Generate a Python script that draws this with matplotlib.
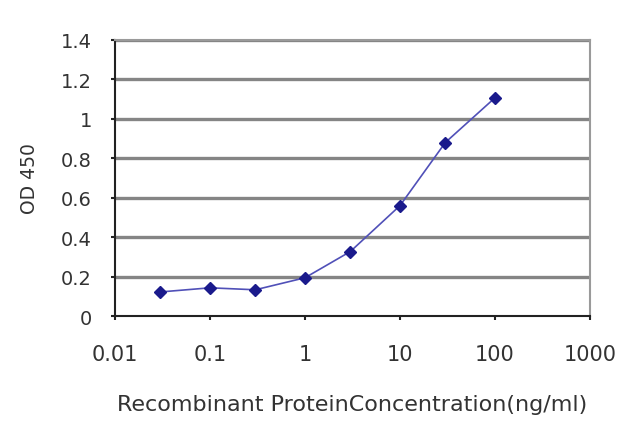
import matplotlib
matplotlib.use("Agg")
import matplotlib.pyplot as plt

concentration = [0.03, 0.1, 0.3, 1, 3, 10, 30, 100]
od450 = [0.122, 0.143, 0.133, 0.194, 0.327, 0.56, 0.88, 1.107]
xticks = [0.01, 0.1, 1, 10, 100, 1000]
xticklabels = ["0.01", "0.1", "1", "10", "100", "1000"]
yticks = [0, 0.2, 0.4, 0.6, 0.8, 1, 1.2, 1.4]
yticklabels = ["0", "0.2", "0.4", "0.6", "0.8", "1", "1.2", "1.4"]

plt.rcParams['font.family'] = ['DejaVu Sans']

fig = plt.figure(figsize=(6.4, 4.27), dpi=100)
ax = fig.add_axes([0.1797, 0.2576, 0.7422, 0.6464])

ax.set_xscale('log')
ax.set_xlim(0.01, 1000)
ax.set_ylim(0, 1.4)

for y in yticks[1:]:
    ax.axhline(y, color='#858585', lw=2.4, zorder=1)

ax.plot(concentration, od450, color='#5050b8', lw=1.2, zorder=3)
ax.plot(concentration, od450, linestyle='none', marker='D', markersize=6.5,
        color='#1a1a8c', zorder=4)

ax.set_xticks(xticks)
ax.set_xticklabels(xticklabels, fontsize=15, color='#333333')
ax.xaxis.set_minor_locator(matplotlib.ticker.NullLocator())
ax.set_yticks(yticks)
ax.set_yticklabels(yticklabels, fontsize=14, color='#333333')

ax.tick_params(axis='both', direction='out', length=3, width=1.5, color='#222222')
ax.tick_params(axis='x', pad=17)
ax.tick_params(axis='y', pad=13.5)

for side in ['left', 'bottom']:
    ax.spines[side].set_color('#222222')
    ax.spines[side].set_linewidth(1.5)
for side in ['top', 'right']:
    ax.spines[side].set_color('#9a9a9a')
    ax.spines[side].set_linewidth(1.5)

ax.set_xlabel('Recombinant ProteinConcentration(ng/ml)', fontsize=16,
              color='#333333', labelpad=22)
ax.set_ylabel('OD 450', fontsize=13.5, color='#333333', labelpad=16)

fig.savefig('out.png', dpi=100)
